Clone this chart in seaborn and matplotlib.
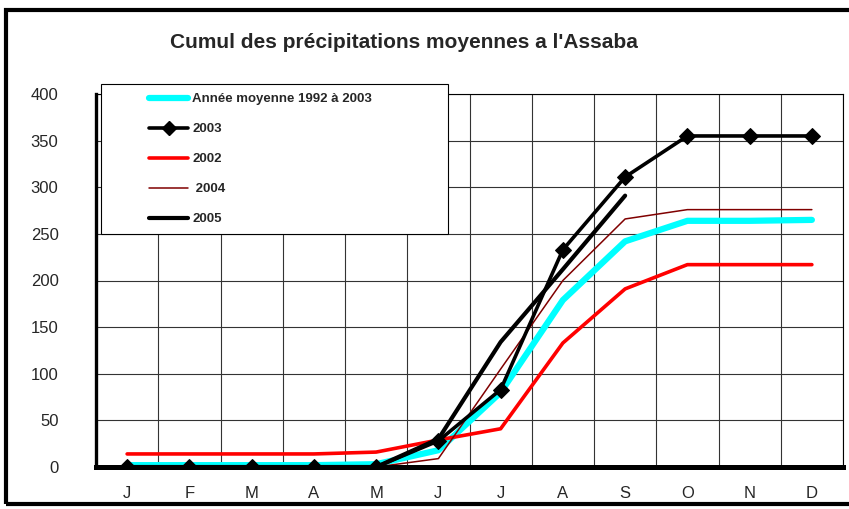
import numpy as np
import pandas as pd
import matplotlib
matplotlib.use("Agg")
import matplotlib.pyplot as plt
from matplotlib.patches import Rectangle
from matplotlib.lines import Line2D
import seaborn as sns

months = ["J", "F", "M", "A", "M", "J", "J", "A", "S", "O", "N", "D"]
moyenne = [2, 2, 2, 2, 3, 18, 80, 179, 242, 264, 264, 265]
y2003 = [0, 0, 0, 0, 0, 28, 83, 233, 311, 355, 355, 355]
y2002 = [14, 14, 14, 14, 16, 29, 41, 133, 191, 217, 217, 217]
y2004 = [0, 0, 0, 0, 0, 9, 105, 200, 266, 276, 276, 276]
y2005 = [0, 0, 0, 0, 0, 30, 134, 212, 291, np.nan, np.nan, np.nan]

sns.set_style("white")
plt.rcParams['font.family'] = ['Liberation Sans', 'DejaVu Sans']

fig = plt.figure(figsize=(8.49, 5.09), dpi=100)
ax = fig.add_axes([96 / 849, 42 / 509, 747 / 849, 373 / 509])

x = np.arange(len(months))
df = pd.DataFrame({"x": x, "moy": moyenne, "y2003": y2003, "y2002": y2002,
                   "y2004": y2004, "y2005": y2005})

sns.lineplot(data=df, x="x", y="moy", ax=ax, color="#00FFFF", lw=4.5, zorder=3)
sns.lineplot(data=df, x="x", y="y2003", ax=ax, color="black", lw=2.6, marker="D",
             markersize=8, markeredgecolor="black", zorder=4)
sns.lineplot(data=df, x="x", y="y2002", ax=ax, color="#FF0000", lw=2.6, zorder=3)
sns.lineplot(data=df, x="x", y="y2004", ax=ax, color="#800000", lw=1.1, zorder=3)
sns.lineplot(data=df, x="x", y="y2005", ax=ax, color="black", lw=3, zorder=3)

ax.set_xlim(-0.5, 11.5)
ax.set_ylim(0, 400)
ax.set_xticks(x)
ax.set_xticklabels(months)
ax.set_xticks(np.arange(-0.5, 12, 1), minor=True)
ax.set_yticks(np.arange(0, 401, 50))
ax.set_xlabel("")
ax.set_ylabel("")

ax.grid(False)
ax.grid(True, which="minor", axis="x", color="#333333", lw=0.8)
ax.grid(True, which="major", axis="y", color="#333333", lw=0.8)
ax.set_axisbelow(True)

ax.tick_params(axis="x", which="major", length=0, labelsize=12, pad=14)
ax.tick_params(axis="x", which="minor", direction="in", length=3, width=2.5, color="black")
ax.tick_params(axis="y", direction="in", length=3, width=2.5, color="black",
               labelsize=12, pad=27)

for side in ["top", "right"]:
    ax.spines[side].set_color("black")
    ax.spines[side].set_linewidth(0.8)
ax.spines["left"].set_linewidth(2.4)
ax.spines["left"].set_color("black")
ax.spines["bottom"].set_linewidth(3.6)
ax.spines["bottom"].set_color("black")
ax.spines["bottom"].set_zorder(3.5)

fig.text(404 / 849, 1 - 42 / 509, "Cumul des précipitations moyennes a l'Assaba",
         ha="center", va="center", fontsize=15, fontweight="bold")

# legend box
fig.patches.append(Rectangle((101 / 849, 1 - 234 / 509), 347 / 849, 150 / 509,
                             transform=fig.transFigure, facecolor="white",
                             edgecolor="black", lw=0.8, zorder=4))

handles = [
    Line2D([], [], color="#00FFFF", lw=4.5),
    Line2D([], [], color="black", lw=2.6, marker="D", markersize=7),
    Line2D([], [], color="#FF0000", lw=2.6),
    Line2D([], [], color="#800000", lw=1.1),
    Line2D([], [], color="black", lw=3),
]
labels = ["Année moyenne 1992 à 2003", "2003", "2002", " 2004", "2005"]
leg = fig.legend(handles, labels, loc="upper left",
                 bbox_to_anchor=(140 / 849, 1 - 84 / 509), frameon=False,
                 prop={"weight": "bold", "size": 9.5}, handlelength=2.95,
                 handletextpad=0.3, labelspacing=1.34, borderpad=0.2)
leg.set_zorder(6)

# outer frame
fig.patches.append(Rectangle((6 / 849, 5 / 509), 860 / 849, 494 / 509,
                             transform=fig.transFigure, facecolor="none",
                             edgecolor="black", lw=3, zorder=7, clip_on=False))

fig.savefig("out.png", dpi=100)
